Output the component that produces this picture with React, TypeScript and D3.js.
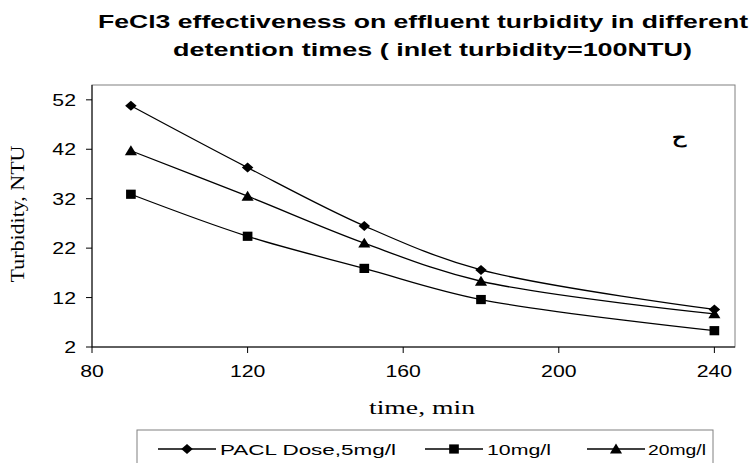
import React from "react";
import * as d3 from "d3";

const times = [90, 120, 150, 180, 240];
const dose5 = [50.8, 38.3, 26.5, 17.6, 9.6];
const dose10 = [32.9, 24.4, 17.9, 11.6, 5.3];
const dose20 = [41.7, 32.5, 23.0, 15.3, 8.7];
const seriesNames = ["PACL Dose,5mg/l", "10mg/l", "20mg/l"];
const xTicks = [80, 120, 160, 200, 240];
const yTicks = [2, 12, 22, 32, 42, 52];
const titleLines = [
  "FeCl3 effectiveness on  effluent turbidity in different",
  "detention times ( inlet turbidity=100NTU)",
];

const W = 751;
const H = 463;
const plot = { left: 92, right: 735, top: 85, bottom: 347 };
const SANS = "'Liberation Sans', Arial, sans-serif";
const SERIF = "'Liberation Serif', 'Times New Roman', serif";

function SText({
  x,
  y,
  sx = 1.25,
  anchor = "start",
  size,
  children,
  family = SANS,
  weight = "normal",
}: any) {
  return (
    <g transform={`translate(${x},${y}) scale(${sx},1)`}>
      <text x={0} y={0} textAnchor={anchor} fontSize={size} fontFamily={family} fontWeight={weight} fill="#000">
        {children}
      </text>
    </g>
  );
}

function Marker({ type, x, y }: { type: string; x: number; y: number }) {
  if (type === "diamond") {
    const r = 5;
    return <path d={`M${x},${y - r}L${x + r * 1.15},${y}L${x},${y + r}L${x - r * 1.15},${y}Z`} fill="#000" />;
  }
  if (type === "square") {
    const s = 4.6;
    return <rect x={x - s * 1.05} y={y - s} width={2 * s * 1.05} height={2 * s} fill="#000" />;
  }
  const s = 5.5;
  return <path d={`M${x},${y - s}L${x + s * 1.1},${y + s * 0.8}L${x - s * 1.1},${y + s * 0.8}Z`} fill="#000" />;
}

export default function App() {
  const x = d3.scaleLinear().domain([80, 245.3]).range([plot.left, plot.right]);
  const y = d3.scaleLinear().domain([2, 55]).range([plot.bottom, plot.top]);
  const series = [
    { name: seriesNames[0], values: dose5, marker: "diamond" },
    { name: seriesNames[1], values: dose10, marker: "square" },
    { name: seriesNames[2], values: dose20, marker: "triangle" },
  ];
  const line = d3
    .line<[number, number]>()
    .x((d) => x(d[0]))
    .y((d) => y(d[1]))
    .curve(d3.curveCatmullRom.alpha(0.5));

  const legendItems = [
    { x0: 158, x1: 216, tx: 220, len: 176 },
    { x0: 425, x1: 483, tx: 487, len: 64 },
    { x0: 587, x1: 645, tx: 648, len: 58 },
  ];
  const titleGeom = [
    { cx: 423, len: 650, y: 28 },
    { cx: 432.5, len: 519, y: 56 },
  ];
  const ly = 449;

  return (
    <svg
      width={W}
      height={H}
      style={{ position: "absolute", left: 0, top: 0, background: "#fff" }}
      fontFamily={SANS}
    >
      <rect x={0} y={0} width={W} height={H} fill="#fff" />
      {titleLines.map((t, i) => (
        <text
          key={i}
          x={titleGeom[i].cx - titleGeom[i].len / 2}
          y={titleGeom[i].y}
          textLength={titleGeom[i].len}
          lengthAdjust="spacingAndGlyphs"
          fontSize={18}
          fontWeight="bold"
          fontFamily={SANS}
          fill="#000"
        >
          {t}
        </text>
      ))}
      {/* plot frame */}
      <rect
        x={plot.left}
        y={plot.top}
        width={plot.right - plot.left}
        height={plot.bottom - plot.top}
        fill="none"
        stroke="#808080"
        strokeWidth={1}
      />
      {/* axes */}
      <line x1={plot.left} x2={plot.left} y1={plot.top} y2={plot.bottom} stroke="#000" />
      <line x1={plot.left} x2={plot.right} y1={plot.bottom} y2={plot.bottom} stroke="#000" />
      {yTicks.map((t) => (
        <g key={t}>
          <line x1={plot.left - 6} x2={plot.left} y1={y(t)} y2={y(t)} stroke="#000" />
          <SText x={76} y={y(t) + 6} anchor="end" size={17}>
            {t}
          </SText>
        </g>
      ))}
      {xTicks.map((t) => (
        <g key={t}>
          <line x1={x(t)} x2={x(t)} y1={plot.bottom} y2={plot.bottom + 6} stroke="#000" />
          <SText x={x(t)} y={plot.bottom + 30} anchor="middle" size={17}>
            {t}
          </SText>
        </g>
      ))}
      <g transform="translate(24,214) rotate(-90)">
        <text
          x={-68.5}
          y={0}
          textLength={137}
          lengthAdjust="spacingAndGlyphs"
          fontSize={18}
          fontFamily={SERIF}
          fill="#000"
        >
          Turbidity, NTU
        </text>
      </g>
      <text
        x={422 - 53}
        y={414}
        textLength={106}
        lengthAdjust="spacingAndGlyphs"
        fontSize={18}
        fontFamily={SERIF}
        fill="#000"
      >
        time, min
      </text>
      <SText x={672} y={143} size={17} family={SERIF} weight="bold" sx={1.3}>
        ح
      </SText>
      {series.map((s) => {
        const pts = times.map((t, i) => [t, s.values[i]] as [number, number]);
        return (
          <g key={s.name}>
            <path d={line(pts) || ""} fill="none" stroke="#000" strokeWidth={1.3} />
            {pts.map((p, i) => (
              <Marker key={i} type={s.marker} x={x(p[0])} y={y(p[1])} />
            ))}
          </g>
        );
      })}
      {/* legend */}
      <rect x={137} y={430} width={576} height={42} fill="#fff" stroke="#808080" />
      {series.map((s, i) => {
        const it = legendItems[i];
        return (
          <g key={s.name}>
            <line x1={it.x0} x2={it.x1} y1={ly} y2={ly} stroke="#000" strokeWidth={1.3} />
            <Marker type={s.marker} x={(it.x0 + it.x1) / 2} y={ly} />
            <text
              x={it.tx}
              y={ly + 6}
              textLength={it.len}
              lengthAdjust="spacingAndGlyphs"
              fontSize={15.5}
              fontFamily={SANS}
              fill="#000"
            >
              {s.name}
            </text>
          </g>
        );
      })}
    </svg>
  );
}
